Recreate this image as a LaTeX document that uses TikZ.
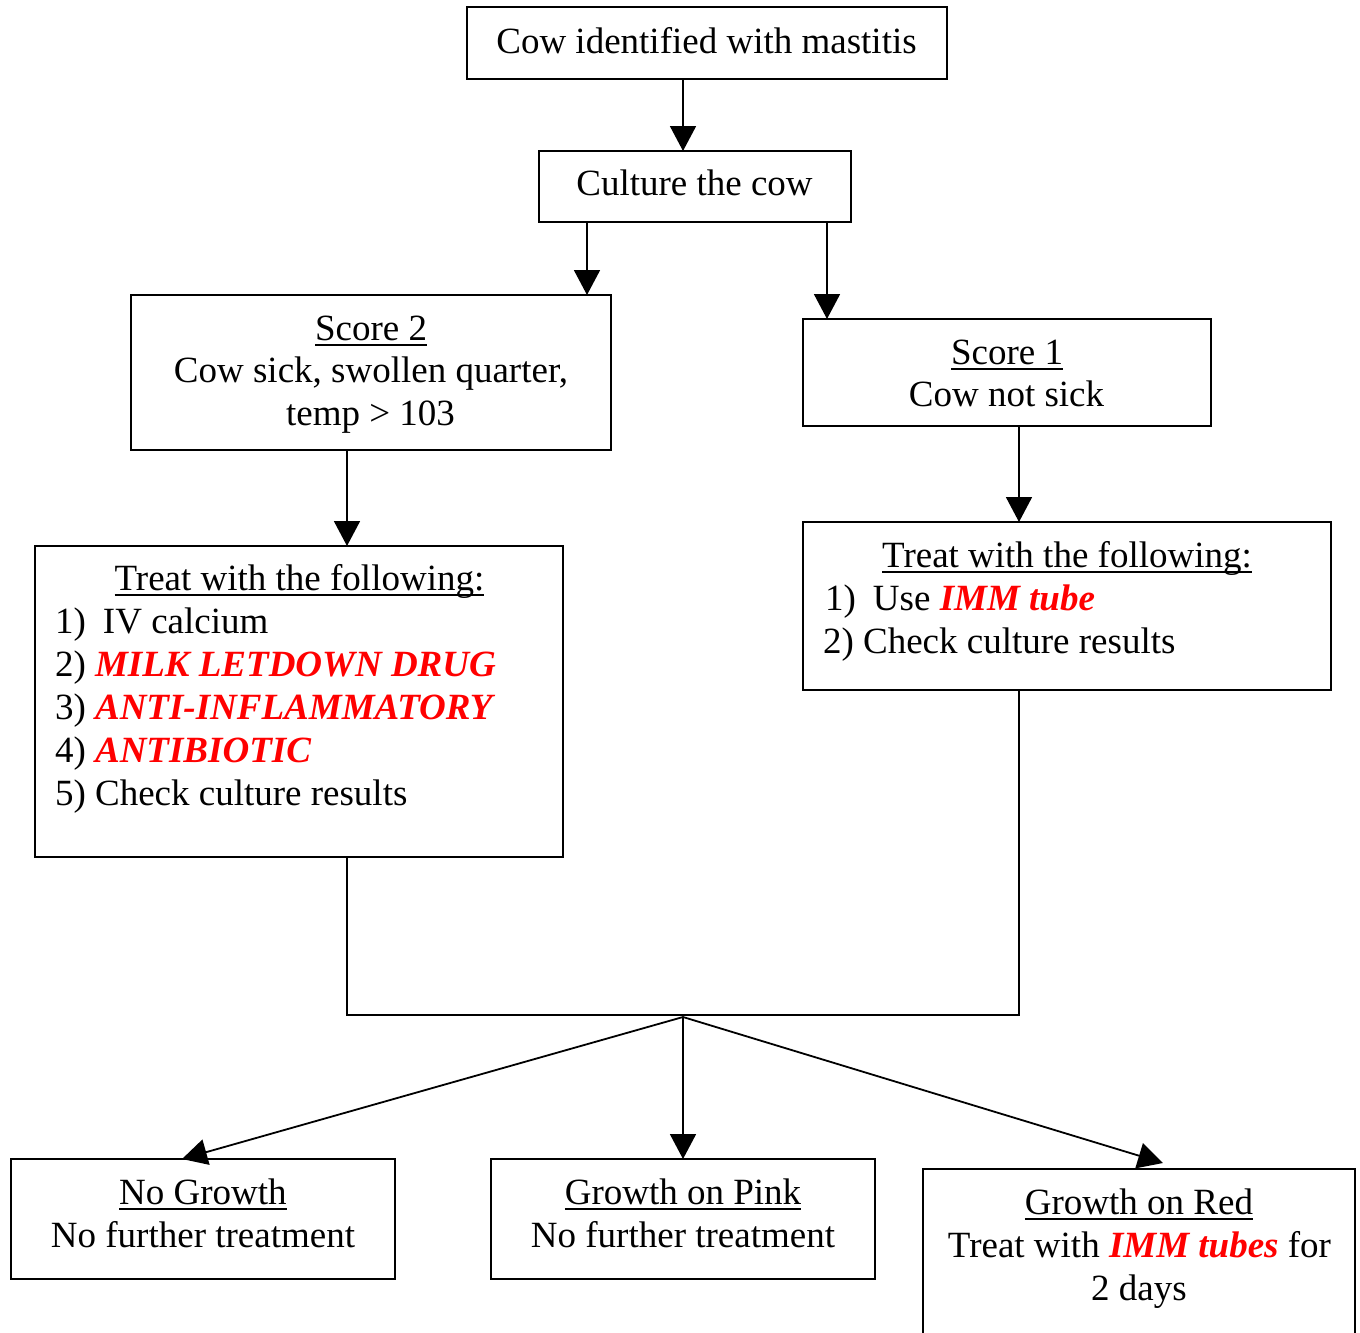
\documentclass[tikz,border=0pt]{standalone}
\usepackage{fontspec}
\setmainfont{Liberation Serif}
\usetikzlibrary{arrows.meta,calc}
\newcommand\redbi[1]{\textcolor{red}{\textbf{\textit{#1}}}}
\newcommand\myul[1]{\setbox0\hbox{#1}\rlap{\rule[-6pt]{\wd0}{1.8pt}}\box0}
\newcommand\numlab[1]{\makebox[48pt][l]{#1}}
\begin{document}
\begin{tikzpicture}[x=1pt,y=-1pt,
  box/.style={draw, line width=1.8pt, inner sep=0pt, outer sep=0pt},
  txt/.style={inner sep=0pt, outer sep=0pt, font=\fontsize{37}{43}\selectfont},
  ctr/.style={txt, anchor=base},
  lft/.style={txt, anchor=base west},
  arr/.style={line width=1.8pt, -{Triangle[length=25pt,width=26pt]}},
  conn/.style={line width=1.8pt}]
\useasboundingbox (0,0) rectangle (1360,1333);
\fill[white] (0,0) rectangle (1360,1333);
% boxes
\node[box, minimum width=480pt, minimum height=72pt] (top) at (707,43) {};
\node[box, minimum width=312pt, minimum height=71pt] (culture) at (695,186.5) {};
\node[box, minimum width=480pt, minimum height=155pt] (score2) at (371,372.5) {};
\node[box, minimum width=408pt, minimum height=107pt] (score1) at (1007,372.5) {};
\node[box, minimum width=528pt, minimum height=311pt] (treatL) at (299,701.5) {};
\node[box, minimum width=528pt, minimum height=168pt] (treatR) at (1067,606) {};
\node[box, minimum width=384pt, minimum height=120pt] (noG) at (203,1219) {};
\node[box, minimum width=384pt, minimum height=120pt] (pink) at (683,1219) {};
\node[box, minimum width=432pt, minimum height=176pt] (red) at (1139,1257) {};
% texts
\node[ctr] (t1) at (706.5,53) {Cow identified with mastitis};
\node[ctr] (t2) at (694.5,195) {Culture the cow};
\node[ctr] (s2a) at (371,340) {\myul{Score 2}};
\node[ctr] (s2b) at (371,382) {Cow sick, swollen quarter,};
\node[ctr] (s2c) at (370.5,425) {temp > 103};
\node[ctr] (s1a) at (1007,364) {\myul{Score 1}};
\node[ctr] (s1b) at (1006.5,406) {Cow not sick};
\node[ctr] (lta) at (299.5,590) {\myul{Treat with the following:}};
\node[lft] (ltb) at (55,633) {\numlab{1)}IV calcium};
\node[lft] (ltc) at (55,676) {2) \redbi{MILK LETDOWN DRUG}};
\node[lft] (ltd) at (55,719) {3) \redbi{ANTI-INFLAMMATORY}};
\node[lft] (lte) at (55,762) {4) \redbi{ANTIBIOTIC}};
\node[lft] (ltf) at (55,805) {5) Check culture results};
\node[ctr] (rta) at (1067,567) {\myul{Treat with the following:}};
\node[lft] (rtb) at (825,610) {\numlab{1)}Use \redbi{IMM tube}};
\node[lft] (rtc) at (823,653) {2) Check culture results};
\node[ctr] (nga) at (203,1204) {\myul{No Growth}};
\node[ctr] (ngb) at (203,1247) {No further treatment};
\node[ctr] (pka) at (683,1204) {\myul{Growth on Pink}};
\node[ctr] (pkb) at (683,1247) {No further treatment};
\node[ctr] (rda) at (1139,1214) {\myul{Growth on Red}};
\node[ctr] (rdb) at (1139.5,1257) {Treat with \redbi{IMM tubes} for};
\node[ctr] (rdc) at (1139,1300) {2 days};
% connectors
\coordinate (j) at (683,1017);
\draw[arr] (top.south -| j) -- (culture.north -| j);
\draw[arr] (culture.south) ++(-108,0) coordinate (c1) -- (c1 |- score2.north);
\draw[arr] (culture.south) ++(132,0) coordinate (c2) -- (c2 |- score1.north);
\draw[arr] (score2.south) ++(-24,0) coordinate (c3) -- (c3 |- treatL.north);
\draw[arr] (score1.south) ++(12,0) coordinate (c4) -- (c4 |- treatR.north);
\draw[conn] (treatL.south) ++(48,0) coordinate (c5) -- ++(0,158) coordinate (c6) -| ([xshift=-48pt]treatR.south);
\coordinate (eL) at ([xshift=-21pt]noG.north);
\coordinate (eR) at ([shift={(24,-6)}]red.north);
\draw[arr] (j) -- (eL);
\draw[arr] (j) -- (pink.north);
\draw[arr] (j) -- (eR);
\end{tikzpicture}
\end{document}
